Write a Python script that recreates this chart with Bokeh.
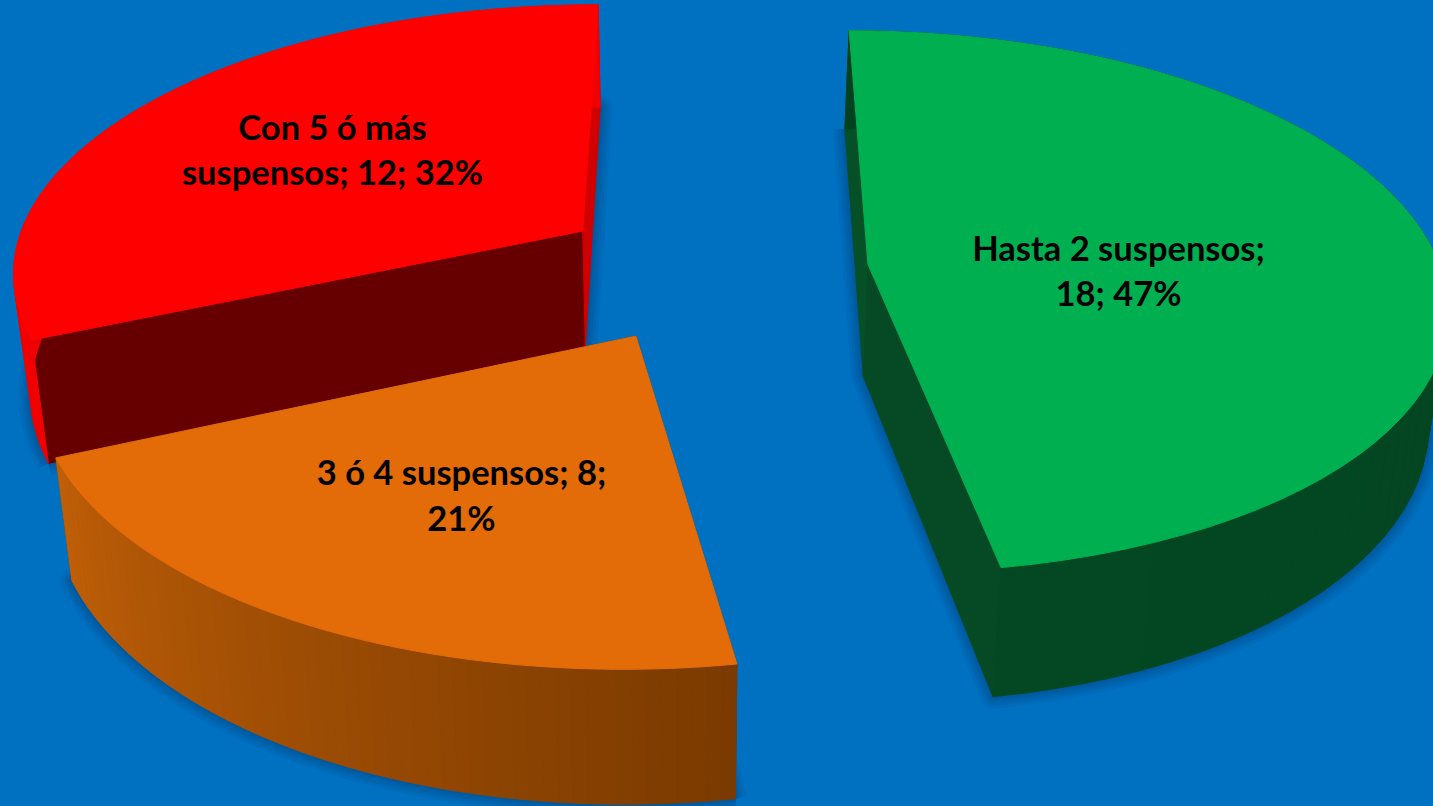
import numpy as np
from bokeh.plotting import figure
from bokeh.embed import file_html
from bokeh.resources import INLINE
from bokeh.core.properties import value

# data
categories = ["Hasta 2 suspensos", "3 ó 4 suspensos", "Con 5 ó más suspensos"]
counts = [18, 8, 12]
label_line1 = ["Hasta 2 suspensos;", "3 ó 4 suspensos; 8;", "Con 5 ó más"]
label_line2 = ["18; 47%", "21%", "suspensos; 12; 32%"]

# styles
BG = "#0070C0"
top_colors = ["#00B050", "#E36C09", "#FF0000"]
wall_start = [(3, 66, 32), (122, 58, 0), (240, 0, 0)]    # arc wall colour at the slice's first angle
wall_end = [(3, 72, 34), (192, 95, 8), (240, 0, 0)]      # ... at its last angle
cut_first = ["#065028", "#7A3A00", "#660000"]            # radial wall at first angle
cut_last = ["#064A25", "#7A3A00", "#D00000"]             # radial wall at last angle
label_x = [1118, 461, 332]
label_y1 = [247, 471, 126]
label_y2 = [292, 517, 171]

# camera of the 3D pie
EXPLODE = [0.274, 0.27, 0.275]
DEPTH = [112.0, 112.0, 119.0]
A, K, E = 573.0, 0.1375, 1945.0
VX, VY = 711.5, -1675.0
ZX, ZT = 681.0, 0.0255


def project(u, v):
    w = 1 - K * v
    return VX + A * u / w, VY + E / w, w


def bottom(x, y, w, depth):
    return x + (ZX - x) * ZT, y + depth / w


p = figure(width=1433, height=806, x_range=(0, 1433), y_range=(806, 0),
           output_backend="svg", toolbar_location=None, min_border=0,
           background_fill_color=BG, border_fill_color=BG, outline_line_color=None)
p.axis.visible = False
p.grid.visible = False

total = sum(counts)
edges = np.concatenate([[0], np.cumsum(counts)]) / total * 2 * np.pi
slices = []
for i in range(len(counts)):
    a0, a1 = edges[i], edges[i + 1]
    mid = (a0 + a1) / 2
    u0, v0 = EXPLODE[i] * np.sin(mid), -EXPLODE[i] * np.cos(mid)
    th = np.linspace(a0, a1, 61)
    x, y, w = project(u0 + np.sin(th), v0 - np.cos(th))
    xb, yb = bottom(x, y, w, DEPTH[i])
    ax, ay, aw = project(u0, v0)
    axb, ayb = bottom(ax, ay, aw, DEPTH[i])
    slices.append(dict(i=i, x=x, y=y, xb=xb, yb=yb, ax=ax, ay=ay, axb=axb, ayb=ayb))

# soft shadow of each slice's base on the background
for s in slices:
    sx = list(s["xb"]) + [s["axb"]]
    sy = list(s["yb"]) + [s["ayb"]]
    sx.append(sx[0]); sy.append(sy[0])
    for lw in (24, 18, 13, 8, 4):
        p.line(sx, sy, line_color="#00305A", line_alpha=0.07, line_width=lw, line_join="round")

for i in (2, 1, 0):
    s = slices[i]
    x, y, xb, yb = s["x"], s["y"], s["xb"], s["yb"]
    ax, ay, axb, ayb = s["ax"], s["ay"], s["axb"], s["ayb"]
    # radial walls
    for j, col in ((0, cut_first[i]), (-1, cut_last[i])):
        p.patch([ax, x[j], xb[j], axb], [ay, y[j], yb[j], ayb], fill_color=col, line_color=col, line_width=1)
    # arc wall in bands
    xs, ys, cols = [], [], []
    n = len(x) - 1
    for k in range(n):
        t = (k + 0.5) / n
        rgb = [int(round(wall_start[i][c] + (wall_end[i][c] - wall_start[i][c]) * t)) for c in range(3)]
        cols.append("#%02X%02X%02X" % tuple(rgb))
        xs.append([x[k], x[k + 1], xb[k + 1], xb[k]])
        ys.append([y[k], y[k + 1], yb[k + 1], yb[k]])
    p.patches(xs, ys, fill_color=cols, line_color=cols, line_width=1)
    # top face
    p.patch([ax] + list(x), [ay] + list(y), fill_color=top_colors[i], line_color=top_colors[i], line_width=1)

for ys, texts in ((label_y1, label_line1), (label_y2, label_line2)):
    p.text(label_x, ys, text=texts, text_font=value("Lato"), text_font_style="bold",
           text_font_size="34.5px", text_color="#000000", text_align="center", text_baseline="middle")

html = file_html(p, INLINE)
html = html.replace("</head>", "<style>html,body{background:%s}</style></head>" % BG, 1)
open("out.html", "w").write(html)
